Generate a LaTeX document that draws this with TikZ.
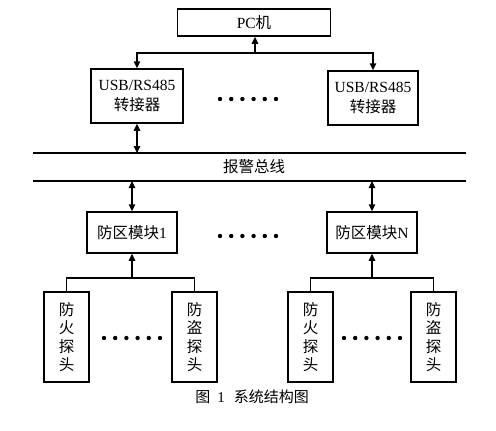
\documentclass[tikz,border=0pt]{standalone}
\usepackage{fontspec}
\setmainfont{Liberation Serif}
\newfontfamily\cjk{Noto Sans CJK SC}
\usetikzlibrary{arrows.meta}
\begin{document}
\begin{tikzpicture}[x=1pt,y=-1pt,
  box/.style={draw, line width=1.5pt, inner sep=0pt, align=center, font=\fontsize{15.5}{19.5}\selectfont},
  arr/.style={-{Triangle[length=7pt,width=6.5pt]}, line width=1.5pt},
  darr/.style={{Triangle[length=7pt,width=6.5pt]}-{Triangle[length=7pt,width=6.5pt]}, line width=1.5pt},
  wire/.style={line width=1.5pt},
  bus/.style={line width=1.3pt},
  det/.style={box, minimum width=45pt, minimum height=90pt, font=\fontsize{15.5}{18.5}\selectfont\cjk}]
\useasboundingbox (0,0) rectangle (496,431);
% top
\node[box, minimum width=153pt, minimum height=27pt] (pc) at (254,22.5) {PC{\cjk 机}};
\node[box, minimum width=92pt, minimum height=54pt] (usb1) at (137,96) {USB/RS485\\{\cjk 转接器}};
\node[box, minimum width=90pt, minimum height=54pt] (usb2) at (373,98) {USB/RS485\\{\cjk 转接器}};
\coordinate (jn) at (255,53);
\draw[arr] (jn) -- (pc.south -| jn);
\draw[arr] (jn) -| (usb1.north);
\draw[arr] (jn) -| (usb2.north);
% bus
\coordinate (busTL) at (33,153);
\coordinate (busTR) at (466,153);
\coordinate (busBL) at (33,181);
\coordinate (busBR) at (466,181);
\draw[bus] (busTL) -- (busTR);
\draw[bus] (busBL) -- (busBR);
\node[font=\fontsize{15.5}{17}\selectfont\cjk] (buslabel) at (254,167) {报警总线};
\coordinate (b1) at (usb1.south |- busTL);
\draw[darr] (usb1.south) -- (b1);
% modules
\node[box, minimum width=90pt, minimum height=41pt] (m1) at (132,232.5) {{\cjk 防区模块}1};
\node[box, minimum width=90pt, minimum height=41pt] (mn) at (372,232.5) {{\cjk 防区模块}N};
\coordinate (b2) at (m1.north |- busBL);
\coordinate (b3) at (mn.north |- busBL);
\draw[darr] (b2) -- (m1.north);
\draw[darr] (b3) -- (mn.north);
% detectors
\node[det] (d1) at (66.5,337) {防\\火\\探\\头};
\node[det] (d2) at (194.5,337) {防\\盗\\探\\头};
\node[det] (d3) at (310.5,337) {防\\火\\探\\头};
\node[det] (d4) at (433.5,337) {防\\盗\\探\\头};
\coordinate (j1) at (132,278);
\coordinate (j2) at (372,278);
\draw[wire] (d1.north) |- (j1) -| (d2.north);
\draw[wire] (d3.north) |- (j2) -| (d4.north);
\draw[arr] (j1) -- (m1.south);
\draw[arr] (j2) -- (mn.south);
% dots
\foreach \cx/\cy in {248/99, 248/236, 132/338, 372/338}
  \foreach \i in {-2.5,-1.5,-0.5,0.5,1.5,2.5}
    \fill (\cx+\i*11.2,\cy) circle (2.2pt);
% caption
\node[font=\fontsize{15}{17}\selectfont] (cap) at (252,397) {{\cjk 图}\hspace{7pt}1\hspace{9pt}{\cjk 系统结构图}};
\end{tikzpicture}
\end{document}
